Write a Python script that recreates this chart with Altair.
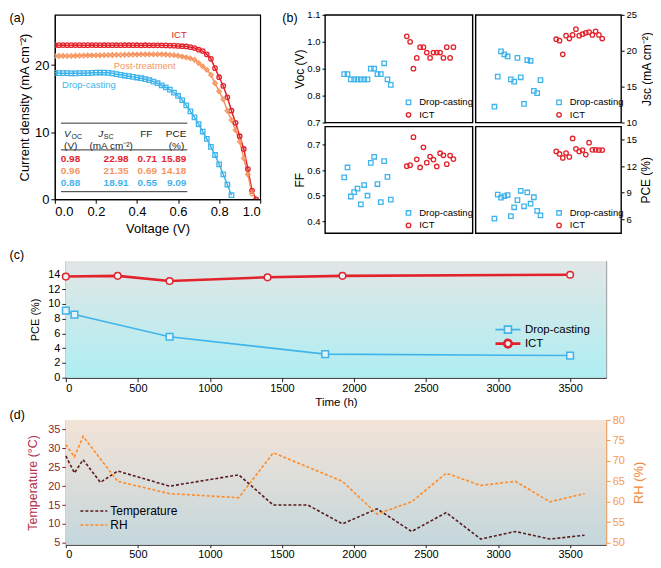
import altair as alt
import pandas as pd

SANS = "Liberation Sans, Arial, sans-serif"

RED = "#e3232c"
ORANGE = "#f5955f"
CYAN = "#3fb4ec"
DARK_T = "#5a1a1f"
ORANGE_RH = "#ff8a26"

# ---------------- (a) J-V curves ----------------
DEVICES = ["ICT", "Post-treatment", "Drop-casting"]
V_GRID = [0.00, 0.02, 0.04, 0.06, 0.08, 0.10, 0.12, 0.14, 0.16, 0.18,
          0.20, 0.22, 0.24, 0.26, 0.28, 0.30, 0.32, 0.34, 0.36, 0.38,
          0.40, 0.42, 0.44, 0.46, 0.48, 0.50, 0.52, 0.54, 0.56, 0.58,
          0.60, 0.62, 0.64, 0.66, 0.68, 0.70, 0.72, 0.74, 0.76, 0.78,
          0.80, 0.82, 0.84, 0.86, 0.88, 0.90, 0.92, 0.94, 0.96, 0.98]
J_ICT = [22.98, 22.98, 22.99, 22.98, 22.98, 22.99, 22.98, 22.98, 22.98, 22.99,
         22.98, 22.98, 22.97, 22.98, 22.98, 22.97, 22.98, 22.97, 22.97, 22.98,
         22.97, 22.96, 22.97, 22.96, 22.96, 22.95, 22.95, 22.94, 22.92, 22.90,
         22.87, 22.82, 22.78, 22.68, 22.55, 22.30, 22.10, 21.60, 20.95, 19.55,
         18.20, 16.90, 15.20, 13.20, 11.40, 9.40, 7.50, 4.50, 1.30, 0.00]
J_POST = [21.35, 21.36, 21.37, 21.38, 21.38, 21.40, 21.41, 21.42, 21.44, 21.45,
          21.46, 21.47, 21.49, 21.50, 21.51, 21.52, 21.53, 21.55, 21.56, 21.57,
          21.58, 21.59, 21.60, 21.60, 21.61, 21.61, 21.60, 21.58, 21.54, 21.48,
          21.40, 21.28, 21.15, 21.00, 20.80, 20.30, 19.80, 19.30, 18.55, 17.30,
          16.10, 14.90, 13.20, 11.80, 10.30, 8.60, 6.10, 3.70, 0.80]
J_DROP = [18.85, 18.82, 18.80, 18.80, 18.78, 18.78, 18.80, 18.80, 18.82, 18.85,
          18.88, 18.90, 18.88, 18.85, 18.78, 18.65, 18.55, 18.45, 18.35, 18.25,
          18.15, 18.05, 17.90, 17.75, 17.55, 17.30, 17.00, 16.70, 16.35, 15.90,
          15.40, 14.80, 14.00, 13.10, 12.20, 11.20, 10.10, 9.00, 7.80, 6.60,
          5.20, 3.70, 2.20, 0.60]
TABLE_VOC = [0.98, 0.96, 0.88]
TABLE_JSC = [22.98, 21.35, 18.91]
TABLE_FF = [0.71, 0.69, 0.55]
TABLE_PCE = [15.89, 14.18, 9.09]

# ---------------- (b) statistics ----------------
METHODS = ["Drop-casting", "ICT"]
DEVICE_NO = [1, 2, 3, 4, 5, 6, 7, 8, 9, 10, 11, 12, 13, 14, 15]
VOC_DROP = [0.88, 0.88, 0.86, 0.86, 0.86, 0.86, 0.86, 0.86, 0.90, 0.90, 0.88, 0.88, 0.92, 0.86, 0.84]
VOC_ICT = [1.02, 1.00, 0.90, 0.94, 0.98, 0.98, 0.96, 0.94, 0.96, 0.96, 0.96, 0.94, 0.98, 0.94, 0.98]
JSC_DROP = [12.2, 16.4, 19.9, 19.5, 19.2, 16.0, 15.7, 19.0, 16.3, 12.6, 18.7, 18.6, 14.4, 14.1, 15.9]
JSC_ICT = [21.6, 21.4, 19.5, 22.1, 21.7, 22.2, 23.0, 22.1, 22.3, 22.5, 22.6, 22.2, 22.7, 22.2, 21.7]
FF_DROP = [0.572, 0.611, 0.497, 0.514, 0.528, 0.466, 0.542, 0.500, 0.629, 0.653, 0.546, 0.475, 0.636, 0.574, 0.485]
FF_ICT = [0.616, 0.620, 0.730, 0.643, 0.611, 0.690, 0.630, 0.654, 0.642, 0.615, 0.667, 0.659, 0.624, 0.658, 0.644]
PCE_DROP = [6.07, 8.77, 8.44, 8.62, 8.73, 6.36, 7.35, 8.15, 9.21, 7.46, 9.02, 7.75, 8.48, 6.95, 6.44]
PCE_ICT = [13.65, 13.36, 12.92, 13.47, 13.03, 15.11, 13.94, 13.65, 13.80, 13.29, 14.64, 13.83, 13.83, 13.80, 13.80]

# ---------------- (c) stability ----------------
TIME_DROP = [0, 60, 720, 1800, 3500]
PCE_T_DROP = [9.09, 8.55, 5.55, 3.2, 3.0]
TIME_ICT = [0, 360, 720, 1400, 1920, 3500]
PCE_T_ICT = [13.7, 13.8, 13.1, 13.6, 13.8, 13.95]

# ---------------- (d) ambient conditions ----------------
TIME_TEMP = [0, 60, 120, 240, 360, 720, 1200, 1440, 1680, 1920, 2160, 2400, 2640, 2880, 3120, 3360, 3600]
TEMP = [28, 23.5, 27, 21, 24, 20, 23, 15, 15, 10, 14, 8, 13, 6, 8, 6, 7]
TIME_RH = [0, 60, 120, 360, 720, 1200, 1440, 1680, 1920, 2160, 2400, 2640, 2880, 3120, 3360, 3600]
RH = [74, 71, 76, 65, 62, 61, 72, 68.5, 65, 57, 60, 67, 64, 65, 60, 62]
TIME_TICKS = [0, 500, 1000, 1500, 2000, 2500, 3000, 3500]


def tag(label, x, y):
    return alt.Chart(pd.DataFrame({"tag": [label]})).mark_text(
        align="left", baseline="alphabetic", font=SANS, fontSize=12.5, color="black"
    ).encode(x=alt.value(x), y=alt.value(y), text="tag:N")


def gradient_bg(w, h, top, bottom):
    grad = alt.LinearGradient(
        gradient="linear",
        stops=[alt.GradientStop(color=top, offset=0), alt.GradientStop(color=bottom, offset=1)],
        x1=0, x2=0, y1=0, y2=1)
    return alt.Chart(pd.DataFrame({"k": [0]})).mark_rect(color=grad).encode(
        x=alt.value(0), x2=alt.value(w), y=alt.value(0), y2=alt.value(h))


def indep(ch):
    return ch.resolve_scale(color="independent", shape="independent",
                            stroke="independent", strokeWidth="independent").resolve_legend(
        color="independent", shape="independent", stroke="independent", strokeWidth="independent")


# =============== panel (a) ===============
WA, HA = 206, 185
df_a = pd.concat([pd.DataFrame({"V": V_GRID[:len(j)], "J": j, "device": n})
                  for n, j in zip(DEVICES, [J_ICT, J_POST, J_DROP])])
dev_color = alt.Scale(domain=DEVICES, range=[RED, ORANGE, CYAN])
dev_shape = alt.Scale(domain=DEVICES, range=["circle", "diamond", "square"])
xa = alt.X("V:Q", scale=alt.Scale(domain=[0, 1.0], nice=False, zero=False),
           axis=alt.Axis(values=[0, 0.2, 0.4, 0.6, 0.8, 1.0], format=".1f", title="Voltage (V)",
                         grid=False, tickSize=4, labelPadding=2, labelFontSize=13, titleFontSize=13,
                         titleFontWeight="normal", titleX=WA / 2, titleY=29.5, titleBaseline="middle",
                         domainColor="black", tickColor="black", labelColor="black"))
ya = alt.Y("J:Q", scale=alt.Scale(domain=[0, 27.5], nice=False, zero=False),
           axis=alt.Axis(values=[0, 5, 10, 15, 20, 25], title="Current density (mA cm⁻²)",
                         grid=False, tickSize=4, labelPadding=2, labelFontSize=13, titleFontSize=13,
                         titleFontWeight="normal", titleX=-30.7, titleY=HA / 2, titleBaseline="middle",
                         domainColor="black", tickColor="black", labelColor="black"))
col_a = alt.Color("device:N", scale=dev_color, legend=None)
lines_a = alt.Chart(df_a).mark_line(strokeWidth=1.5, clip=True).encode(x=xa, y=ya, color=col_a)
pts_a = alt.Chart(df_a).mark_point(filled=False, size=20, strokeWidth=1.3, opacity=1, clip=True).encode(
    x=xa, y=ya, color=col_a, shape=alt.Shape("device:N", scale=dev_shape, legend=None))
lab_a = alt.Chart(pd.DataFrame({"device": DEVICES, "V": [0.605, 0.4375, 0.166], "J": [24.5, 19.9, 17.1]})
                  ).mark_text(font=SANS, fontSize=9.5).encode(x=xa, y=ya, text="device:N", color=col_a)
rules_a = alt.Chart(pd.DataFrame({"y": [11.35, 7.36, 1.13], "x0": [0.03] * 3, "x1": [0.645] * 3})
                    ).mark_rule(color="#333333", strokeWidth=1).encode(
    x=alt.X("x0:Q", scale=alt.Scale(domain=[0, 1.0], nice=False)), x2="x1:Q",
    y=alt.Y("y:Q", scale=alt.Scale(domain=[0, 27.5], nice=False)))

TABLE_ROW_J = [6.0, 4.2, 2.35]
df_tab = pd.DataFrame({"device": DEVICES, "row": TABLE_ROW_J,
                       "voc": [f"{v:.2f}" for v in TABLE_VOC], "jsc": [f"{v:.2f}" for v in TABLE_JSC],
                       "ff": [f"{v:.2f}" for v in TABLE_FF], "pce": [f"{v:.2f}" for v in TABLE_PCE]})


def tab_col(field, xpos, align):
    return alt.Chart(df_tab).mark_text(align=align, baseline="middle", font=SANS, fontSize=10,
                                       fontWeight="bold").encode(
        x=alt.datum(xpos), y=alt.Y("row:Q"), text=f"{field}:N", color=col_a)


def head(text, xpos, ypos, align="left", dx=0, dy=0, size=10, style="normal"):
    return alt.Chart(pd.DataFrame({"t": [text]})).mark_text(
        align=align, baseline="middle", font=SANS, fontSize=size, fontStyle=style, dx=dx, dy=dy,
        color="#222222").encode(x=alt.datum(xpos), y=alt.datum(ypos), text="t:N")


heads = [head("V", 0.045, 9.7, style="italic"), head("OC", 0.045, 9.7, dx=7.5, dy=3, size=7),
         head("(V)", 0.045, 8.0),
         head("J", 0.2115, 9.7, style="italic"), head("SC", 0.2115, 9.7, dx=5.5, dy=3, size=7),
         head("(mA cm⁻²)", 0.274, 8.0, align="center"),
         head("FF", 0.445, 9.7, align="center"),
         head("PCE", 0.64, 9.7, align="right"), head("(%)", 0.63, 8.0, align="right")]

panel_a = alt.layer(
    lines_a, pts_a, lab_a, rules_a,
    tab_col("voc", 0.029, "left"), tab_col("jsc", 0.298, "center"),
    tab_col("ff", 0.45, "center"), tab_col("pce", 0.64, "right"),
    *heads, tag("(a)", -45.5, 7)
).properties(width=WA, height=HA, view=alt.ViewBackground(stroke="black", strokeWidth=1.2))

# =============== panel (b) ===============
m_color = alt.Scale(domain=METHODS, range=[CYAN, RED])
m_shape = alt.Scale(domain=METHODS, range=["square", "circle"])
ICT_GAP = 18.8


def b_panel(drop, ict, title, domain, ticks, fmt, orient, w, h, title_x, legend_y, extra=None):
    df = pd.DataFrame({"pos": DEVICE_NO + [d + ICT_GAP for d in DEVICE_NO],
                       "val": drop + ict,
                       "method": ["Drop-casting"] * len(drop) + ["ICT"] * len(ict)})
    leg = alt.Legend(orient="none", legendX=79, legendY=legend_y, title=None, labelFont=SANS,
                     labelFontSize=9.5, symbolSize=20, symbolStrokeWidth=1.3, labelOffset=6,
                     rowPadding=1.5, padding=0, labelColor="black")
    pts = alt.Chart(df).mark_point(filled=False, size=20, strokeWidth=1.3, opacity=1).encode(
        x=alt.X("pos:Q", scale=alt.Scale(domain=[-4.75, 39.55], nice=False, zero=False), axis=None),
        y=alt.Y("val:Q", scale=alt.Scale(domain=domain, nice=False, zero=False),
                axis=alt.Axis(orient=orient, values=ticks, format=fmt, title=title, grid=False,
                              domain=False, tickSize=3, labelPadding=2, labelFont=SANS,
                              labelFontSize=9.5, titleFont=SANS, titleFontSize=12,
                              titleFontWeight="normal", titleX=title_x, titleY=h / 2,
                              titleBaseline="middle", titleAngle=270, tickColor="black",
                              labelColor="black")),
        color=alt.Color("method:N", scale=m_color, legend=leg),
        shape=alt.Shape("method:N", scale=m_shape, legend=leg))
    layers = [pts] + ([extra] if extra is not None else [])
    return alt.layer(*layers).properties(width=w, height=h,
                                         view=alt.ViewBackground(stroke="black", strokeWidth=1.4))


b_voc = b_panel(VOC_DROP, VOC_ICT, "Voc (V)", [0.7, 1.1], [0.7, 0.8, 0.9, 1.0, 1.1], ".1f", "left",
                148, 108, -25.5, 83, extra=tag("(b)", -42.8, 7))
b_jsc = b_panel(JSC_DROP, JSC_ICT, "Jsc (mA cm⁻²)", [10, 25], [10, 15, 20, 25], "d", "right",
                146, 108, 25, 83)
b_ff = b_panel(FF_DROP, FF_ICT, "FF", [0.353, 0.772], [0.4, 0.5, 0.6, 0.7], ".1f", "left",
               148, 107, -25.5, 82)
b_pce = b_panel(PCE_DROP, PCE_ICT, "PCE (%)", [4.43, 16.46], [6, 9, 12, 15], "d", "right",
                146, 107, 24, 82)
panel_b = indep(alt.concat(b_voc, b_jsc, b_ff, b_pce, columns=2,
                           spacing={"row": 4, "column": 3}, bounds="flush"))

# =============== panel (c) ===============
WC, HC = 542, 117
df_c = pd.DataFrame({"t": TIME_DROP + TIME_ICT, "pce": PCE_T_DROP + PCE_T_ICT,
                     "method": ["Drop-casting"] * len(TIME_DROP) + ["ICT"] * len(TIME_ICT)})
xc = alt.X("t:Q", scale=alt.Scale(domain=[0, 3750], nice=False, zero=False),
           axis=alt.Axis(values=TIME_TICKS, format="d", title="Time (h)", grid=False, tickSize=4,
                         labelPadding=1, labelFontSize=11, titleFontSize=11.5, titleFontWeight="normal",
                         titleX=WC / 2, titleY=25.3, titleBaseline="middle", domainColor="#222222",
                         tickColor="#222222", labelColor="black"))
yc = alt.Y("pce:Q", scale=alt.Scale(domain=[0, 15.8], nice=False, zero=False),
           axis=alt.Axis(values=[0, 2, 4, 6, 8, 10, 12, 14], title="PCE (%)", grid=False, tickSize=4,
                         labelPadding=2, labelFontSize=11, titleFontSize=11, titleFontWeight="normal",
                         titleX=-30.3, titleY=HC / 2, titleBaseline="middle", domainColor="#222222",
                         tickColor="#222222", labelColor="black"))
SYM_EXPR = ("datum.value == 'ICT' ? "
            "'M-1,0H-0.3M0.3,0H1M-0.3,0A0.3,0.3 0 1,1 0.3,0A0.3,0.3 0 1,1 -0.3,0' : "
            "'M-1,0H-0.28M0.28,0H1M-0.28,-0.28H0.28V0.28H-0.28Z'")
leg_c = alt.Legend(orient="none", legendX=429.5, legendY=61.8, title=None, symbolType={"expr": SYM_EXPR},
                   symbolSize=625, symbolStrokeWidth=1.8, labelFontSize=11.5, labelOffset=3,
                   rowPadding=0, clipHeight=14, padding=0, labelColor="black",
                   symbolFillColor="#dff1f3")
lines_c = alt.Chart(df_c).mark_line().encode(
    x=xc, y=yc, stroke=alt.Stroke("method:N", scale=m_color, legend=leg_c),
    strokeWidth=alt.StrokeWidth("method:N", scale=alt.Scale(domain=METHODS, range=[1.6, 2.6]), legend=None))


def pts_c(method, shape):
    return alt.Chart(df_c).transform_filter(alt.datum.method == method).mark_point(
        shape=shape, filled=False, fill="#e6f2f3", fillOpacity=1, size=45, strokeWidth=1.5, opacity=1
    ).encode(x=xc, y=yc, color=alt.Color("method:N", scale=m_color, legend=None))


panel_c = alt.layer(
    gradient_bg(WC, HC, "#e2e6e5", "#aeeef3"), lines_c,
    pts_c("Drop-casting", "square"), pts_c("ICT", "circle"), tag("(c)", -56.4, -2)
).properties(width=WC, height=HC, view=alt.ViewBackground(stroke="#8c8c8c", strokeWidth=1))

# =============== panel (d) ===============
WD, HD = 542, 125
ser_color = alt.Scale(domain=["Temperature", "RH"], range=[DARK_T, ORANGE_RH])
leg_d = alt.Legend(orient="none", legendX=13.6, legendY=84.2, title=None, symbolType="stroke",
                   symbolSize=729, symbolDash=[3, 2], symbolStrokeWidth=1.6, labelFontSize=12,
                   labelOffset=2, rowPadding=0, clipHeight=14, padding=0, labelColor="black")
xd = alt.X("t:Q", scale=alt.Scale(domain=[0, 3750], nice=False, zero=False),
           axis=alt.Axis(values=TIME_TICKS, format="d", title=None, grid=False, tickSize=3,
                         labelPadding=1, labelFontSize=11, domainColor="#222222", tickColor="#222222",
                         labelColor="black"))
df_temp = pd.DataFrame({"t": TIME_TEMP, "v": TEMP, "series": "Temperature"})
df_rh = pd.DataFrame({"t": TIME_RH, "v": RH, "series": "RH"})
temp_l = alt.Chart(df_temp).mark_line(strokeDash=[3, 2], strokeWidth=1.6).encode(
    x=xd,
    y=alt.Y("v:Q", scale=alt.Scale(domain=[4.5, 37.5], nice=False, zero=False),
            axis=alt.Axis(orient="left", values=[5, 10, 15, 20, 25, 30, 35], title="Temperature (°C)",
                          grid=False, tickSize=4, labelPadding=2, labelFontSize=11, titleFontSize=12.5,
                          titleFontWeight="normal", titleColor="#b5304a", labelColor="#8c1f2c",
                          domainColor="#8c1f2c", tickColor="#8c1f2c", titleX=-33.4, titleY=HD / 2,
                          titleBaseline="middle")),
    color=alt.Color("series:N", scale=ser_color, legend=leg_d))
rh_l = alt.Chart(df_rh).mark_line(strokeDash=[3, 2], strokeWidth=1.6).encode(
    x=xd,
    y=alt.Y("v:Q", scale=alt.Scale(domain=[49.5, 80], nice=False, zero=False),
            axis=alt.Axis(orient="right", values=[50, 55, 60, 65, 70, 75, 80], title="RH (%)",
                          grid=False, tickSize=4, labelPadding=2, labelFontSize=11, titleFontSize=13,
                          titleFontWeight="normal", titleColor="#f08a3a", labelColor="#f59a4e",
                          domainColor="#f59a4e", tickColor="#f59a4e", titleX=32, titleY=HD / 2,
                          titleBaseline="middle", titleAngle=270)),
    color=alt.Color("series:N", scale=ser_color, legend=leg_d))
panel_d = alt.layer(
    gradient_bg(WD, HD, "#f3e3d7", "#c4d7dc"), temp_l, rh_l, tag("(d)", -56.4, -1.5)
).resolve_scale(y="independent").properties(
    width=WD, height=HD, view=alt.ViewBackground(stroke="#b0b0b0", strokeWidth=1))

spacer = alt.Chart(pd.DataFrame({"k": [0]})).mark_point(opacity=0).encode(
    x=alt.value(0), y=alt.value(0)).properties(
    width=1, height=1, view=alt.ViewBackground(stroke="transparent"))

row1 = indep(alt.hconcat(panel_a, panel_b, spacing=65, bounds="flush"))
cd = indep(alt.vconcat(panel_c, panel_d, spacing=-1.5))
bottom = indep(alt.hconcat(spacer, cd, spacing=10, bounds="flush"))
chart = indep(alt.vconcat(row1, bottom, spacing=11)).properties(padding=0).configure(
    font=SANS).configure_view(stroke="black")

chart.save("out.html", embed_options={"renderer": "svg", "actions": False})
